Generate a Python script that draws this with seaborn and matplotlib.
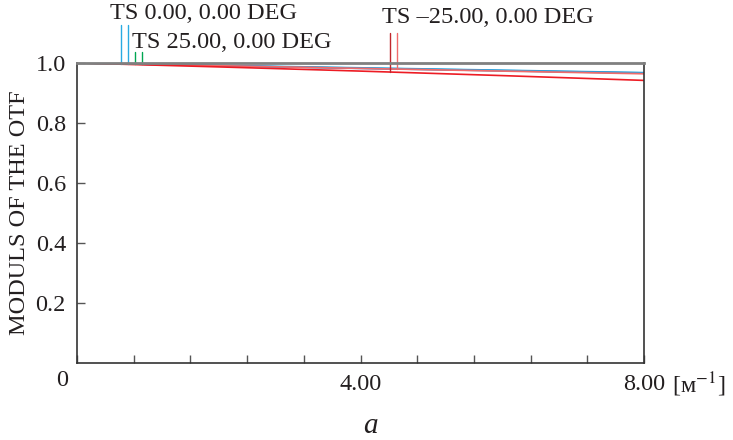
import pandas as pd
import numpy as np
import matplotlib
matplotlib.use("Agg")
import matplotlib.pyplot as plt
import seaborn as sns

# spatial frequency, 1/mm
freq = [0, 2, 4, 6, 8]
# MTF curves
ts0_t = [1.0, 0.992, 0.984, 0.976, 0.968]
ts0_s = [1.0, 0.991, 0.982, 0.974, 0.966]
ts25_t = [1.0, 0.991, 0.983, 0.975, 0.967]
tsm25_t = [1.0, 0.991, 0.982, 0.973, 0.964]
tsm25_s = [1.0, 0.987, 0.973, 0.958, 0.942]

series = ["ts0_t", "ts0_s", "ts25_t", "tsm25_t", "tsm25_s"]
colors = {"ts0_t": "#29abe2", "ts0_s": "#1c75bc", "ts25_t": "#3aa0d8",
          "tsm25_t": "#f06b6b", "tsm25_s": "#ed1c24"}

df = pd.DataFrame({
    "freq": freq * 5,
    "mtf": ts0_t + ts0_s + ts25_t + tsm25_t + tsm25_s,
    "curve": sum([[s] * len(freq) for s in series], []),
})

# marker sticks: x position, top y, colour, curve it drops to
mark_x = [0.62, 0.72, 0.82, 0.92, 4.42, 4.51]
mark_top = [1.127, 1.127, 1.037, 1.037, 1.10, 1.10]
mark_curve = ["ts0_t", "ts0_s", "ts25_t", "ts25_t", "tsm25_s", "tsm25_t"]
mark_col = ["#29abe2", "#29abe2", "#00a651", "#00a651", "#c1272d", "#f06b6b"]

labels = ["TS 0.00, 0.00 DEG", "TS 25.00, 0.00 DEG", "TS \u201325.00, 0.00 DEG"]
label_x = [0.46, 0.77, 4.30]
label_y = [1.165, 1.068, 1.152]

sns.set_style("white")
plt.rcParams["font.family"] = ["Liberation Serif", "DejaVu Serif"]
plt.rcParams["mathtext.fontset"] = "stix"
fs = 17.5
ink = "#231f20"

fig = plt.figure(figsize=(7.33, 4.4), dpi=100)
ax = fig.add_axes([77 / 733, 1 - 363 / 440, 567 / 733, 300 / 440])

sns.lineplot(data=df, x="freq", y="mtf", hue="curve", palette=colors,
             legend=False, ax=ax, linewidth=1.2)

for x, top, cv, c in zip(mark_x, mark_top, mark_curve, mark_col):
    yb = np.interp(x, freq, df[df.curve == cv].mtf)
    ax.plot([x, x], [yb, top], color=c, lw=1, clip_on=False)

for t, x, y in zip(labels, label_x, label_y):
    ax.text(x, y, t, fontsize=fs, ha="left", va="center", color=ink)

ax.set_xlim(0, 8)
ax.set_ylim(0, 1.0)
ax.set_xticks([4, 8])
ax.set_xticklabels(["4.00", "8.00"])
ax.set_xticks(np.arange(0, 8.01, 0.8), minor=True)
ax.set_yticks([0.2, 0.4, 0.6, 0.8, 1.0])
ax.set_yticklabels(["0.2", "0.4", "0.6", "0.8", "1.0"])
ax.tick_params(axis="both", which="both", direction="in", labelsize=fs,
               colors=ink, bottom=True, left=True)
ax.tick_params(axis="x", which="both", length=6, width=1, color="#555555")
ax.tick_params(axis="x", which="major", pad=8)
ax.tick_params(axis="y", length=6, width=1, color="#555555", pad=8)
for s in ["left", "bottom", "right"]:
    ax.spines[s].set_color("#333333")
    ax.spines[s].set_linewidth(1.2)
ax.spines["top"].set_color("#808080")
ax.spines["top"].set_linewidth(2)

ax.set_xlabel("")
ax.set_ylabel("MODULS OF THE OTF", fontsize=fs, color=ink, labelpad=4)
ax.text(-0.21, -0.025, "0", fontsize=fs, ha="center", va="top", color=ink)
ax.text(8.39, -0.025, "[\u043c$^{-1}$]", fontsize=fs, ha="left", va="top",
        color=ink)
fig.text(370 / 733, 1 - 426 / 440, "a", fontsize=21, style="italic",
         ha="center", va="center", color=ink)

fig.savefig("out.png", dpi=100)
